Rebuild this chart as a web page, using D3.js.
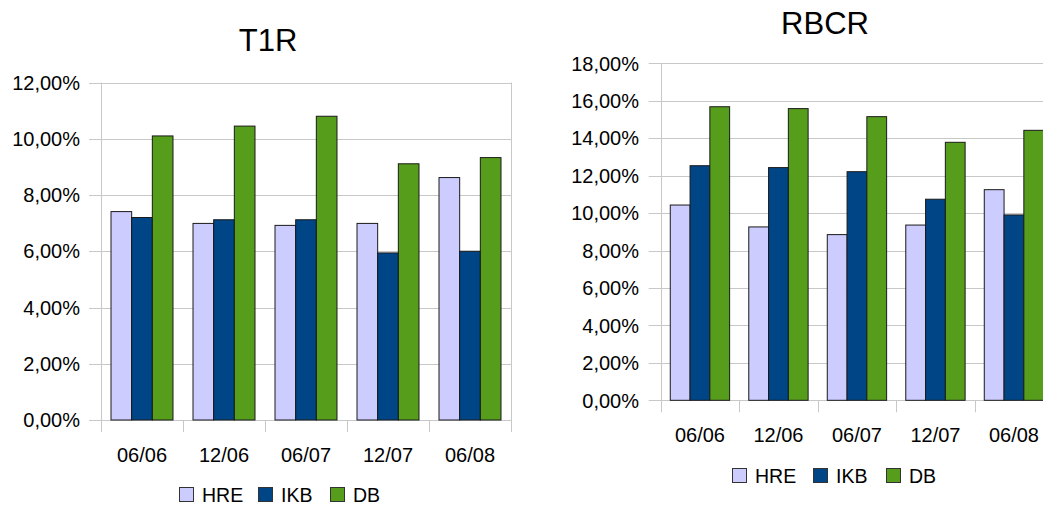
<!DOCTYPE html>
<html>
<head>
<meta charset="utf-8">
<script src="https://cdn.jsdelivr.net/npm/d3@7"></script>
<style>
  body { margin: 0; background: #fff; }
  svg { display: block; font-family: "Liberation Sans", Arial, sans-serif; }
</style>
</head>
<body>
<svg width="1043" height="506"></svg>
<script>
/* global d3 */
var categories = ['06/06', '12/06', '06/07', '12/07', '06/08']
var series = ['HRE', 'IKB', 'DB']
var colors = ['#ccccff', '#004586', '#579d1c']

// T1R values, %
var t1rHRE = [7.41, 6.99, 6.92, 6.99, 8.62]
var t1rIKB = [7.20, 7.12, 7.12, 5.94, 6.00]
var t1rDB = [10.10, 10.45, 10.80, 9.11, 9.33]
var t1rTicks = [0, 2, 4, 6, 8, 10, 12]

// RBCR values, %
var rbcrHRE = [10.43, 9.26, 8.85, 9.36, 11.25]
var rbcrIKB = [12.53, 12.43, 12.21, 10.74, 9.90]
var rbcrDB = [15.68, 15.58, 15.15, 13.78, 14.42]
var rbcrTicks = [0, 2, 4, 6, 8, 10, 12, 14, 16, 18]

var svg = d3.select('svg')
var fmt = function (v) { return v.toFixed(2).replace('.', ',') + '%' }

function drawChart (o) {
  var g = svg.append('g')
  var x0 = d3.scaleBand().domain(categories).range([o.left, o.left + o.band * categories.length])
  var bw = x0.bandwidth()
  var x1 = d3.scaleBand().domain(series).range([bw * o.gap, bw * (1 - o.gap)])
  var y = d3.scaleLinear().domain([0, d3.max(o.ticks)]).range([o.bottom, o.top])
  var right = Math.min(o.left + bw * categories.length, 1043)

  // gridlines + y ticks
  g.append('g').selectAll('line')
    .data(o.ticks)
    .enter().append('line')
      .attr('x1', o.left - 12).attr('x2', right)
      .attr('y1', d => Math.round(y(d)) + 0.5).attr('y2', d => Math.round(y(d)) + 0.5)
      .attr('stroke', '#c8c8c8').attr('stroke-width', 1)

  // vertical lines: walls and category ticks
  var vx = d3.range(categories.length + 1).map(i => o.left + i * bw)
  g.append('g').selectAll('line')
    .data(vx)
    .enter().append('line')
      .attr('x1', d => Math.round(d) + 0.5).attr('x2', d => Math.round(d) + 0.5)
      .attr('y1', (d, i) => (i === 0 || i === categories.length) ? y(d3.max(o.ticks)) : o.bottom)
      .attr('y2', o.bottom + 12)
      .attr('stroke', '#c8c8c8').attr('stroke-width', 1)

  g.append('g').selectAll('text')
    .data(o.ticks)
    .enter().append('text')
      .attr('x', o.labelX).attr('y', d => y(d))
      .attr('dy', '0.36em')
      .attr('text-anchor', 'end')
      .attr('font-size', 20)
      .attr('fill', '#000')
      .text(fmt)

  // bars
  var rows = categories.map((c, i) => ({ cat: c, vals: o.data.map(s => s[i]) }))
  g.append('g').selectAll('g')
    .data(rows)
    .enter().append('g')
      .attr('transform', d => 'translate(' + x0(d.cat) + ',0)')
    .selectAll('rect')
    .data(d => d.vals.map((v, j) => ({ s: series[j], v: v, j: j })))
    .enter().append('rect')
      .attr('x', d => x1(d.s))
      .attr('y', d => y(d.v))
      .attr('width', x1.bandwidth())
      .attr('height', d => o.bottom - y(d.v))
      .attr('fill', d => colors[d.j])
      .attr('stroke', '#1a1a1a').attr('stroke-width', 1)

  // x labels
  g.append('g').selectAll('text')
    .data(categories)
    .enter().append('text')
      .attr('x', d => x0(d) + bw / 2)
      .attr('y', o.catY)
      .attr('text-anchor', 'middle')
      .attr('font-size', 20)
      .text(d => d)

  // title
  g.append('text')
    .attr('x', o.titleX).attr('y', o.titleY)
    .attr('text-anchor', 'middle')
    .attr('font-size', 31)
    .text(o.title)

  // legend
  var leg = g.append('g').selectAll('g')
    .data(series)
    .enter().append('g')
      .attr('transform', (d, i) => 'translate(' + o.legX[i] + ',' + o.legY + ')')
  leg.append('rect')
    .attr('x', 0.5).attr('y', 0.5)
    .attr('width', 14).attr('height', 14)
    .attr('fill', (d, i) => colors[i])
    .attr('stroke', '#333').attr('stroke-width', 1)
  leg.append('text')
    .attr('x', 23).attr('y', 15)
    .attr('font-size', 19.5)
    .text(d => d)
}

drawChart({
  title: 'T1R', titleX: 268, titleY: 51,
  data: [t1rHRE, t1rIKB, t1rDB], ticks: t1rTicks,
  left: 101, band: 82, gap: 0.122, top: 82.5, bottom: 420,
  labelX: 80, catY: 462,
  legX: [179, 258, 330], legY: 487
})

drawChart({
  title: 'RBCR', titleX: 825, titleY: 34,
  data: [rbcrHRE, rbcrIKB, rbcrDB], ticks: rbcrTicks,
  left: 660.7, band: 78.5, gap: 0.122, top: 63.3, bottom: 400.3,
  labelX: 639, catY: 442,
  legX: [732, 813, 886], legY: 468
})
</script>
</body>
</html>
